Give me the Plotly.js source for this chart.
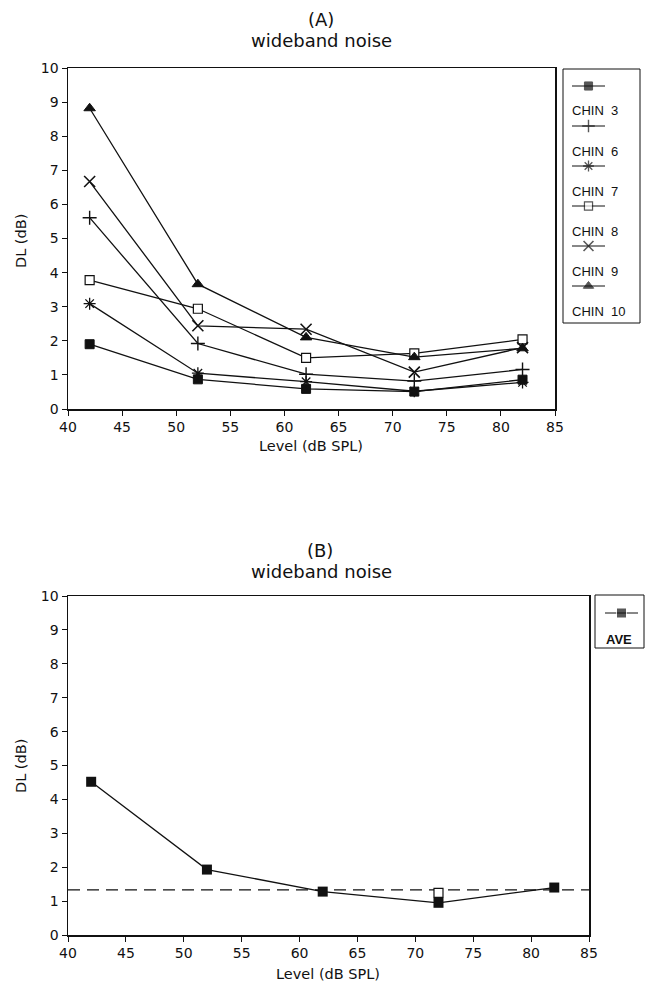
<!DOCTYPE html>
<html>
<head>
<meta charset="utf-8">
<script src="https://cdn.plot.ly/plotly-3.0.1.min.js"></script>
<style>html,body{margin:0;padding:0;background:#fff;}</style>
</head>
<body>
<div id="chart" style="width:651px;height:984px;"></div>
<script>
// ---------- data ----------
const levels = [42, 52, 62, 72, 82];
const chin3  = [1.90, 0.87, 0.59, 0.51, 0.86];
const chin6  = [5.61, 1.92, 1.02, 0.82, 1.16];
const chin7  = [3.09, 1.05, 0.80, 0.52, 0.78];
const chin8  = [3.78, 2.94, 1.50, 1.63, 2.04];
const chin9  = [6.67, 2.44, 2.34, 1.08, 1.80];
const chin10 = [8.82, 3.66, 2.10, 1.52, 1.78];
const seriesNames = ["CHIN  3", "CHIN  6", "CHIN  7", "CHIN  8", "CHIN  9", "CHIN  10"];
const aveValues = [4.52, 1.93, 1.28, 0.95, 1.40];
const aveName = "AVE";
const extraLevel = [72];
const extraValue = [1.24];
const refLevels = [40, 85];
const refValue = [1.33, 1.33];
const xTicks = [40, 45, 50, 55, 60, 65, 70, 75, 80, 85];
const yTicks = [0, 1, 2, 3, 4, 5, 6, 7, 8, 9, 10];

// ---------- layout helpers ----------
const W = 651, H = 984;
const px = x => x / W;
const py = y => 1 - y / H;
const INK = "#111";
const tickFont = {family: "DejaVu Sans", size: 14, color: INK};
const titleFont = {family: "DejaVu Sans", size: 18, color: INK};
const axTitleFont = {family: "DejaVu Sans", size: 14.5, color: INK};
const legFont = {family: "Liberation Sans", size: 13, color: INK};

const styles = [
  {symbol: "square", size: 9, color: INK, line: {color: INK, width: 1}},
  {symbol: "cross-thin-open", size: 10, color: INK, line: {color: INK, width: 1.4}},
  {symbol: "asterisk-open", size: 10, color: INK, line: {color: INK, width: 1.3}},
  {symbol: "square", size: 9, color: "#fff", line: {color: INK, width: 1.2}},
  {symbol: "x-thin-open", size: 11, color: INK, line: {color: INK, width: 1.6}},
  {symbol: "triangle-up", size: 10, color: INK, line: {color: INK, width: 1}}
];
const chinData = [chin3, chin6, chin7, chin8, chin9, chin10];

const traces = [];
chinData.forEach((ys, i) => {
  traces.push({
    x: levels, y: ys, type: "scatter", mode: "lines+markers",
    name: seriesNames[i], xaxis: "x", yaxis: "y",
    line: {color: INK, width: 1.3}, marker: styles[i], showlegend: false
  });
});
traces.push({
  x: refLevels, y: refValue, type: "scatter", mode: "lines", xaxis: "x2", yaxis: "y2",
  line: {color: INK, width: 1.2, dash: "12px,7px"}, showlegend: false, hoverinfo: "skip"
});
traces.push({
  x: extraLevel, y: extraValue, type: "scatter", mode: "markers", xaxis: "x2", yaxis: "y2",
  marker: {symbol: "square", size: 9, color: "#fff", line: {color: INK, width: 1.2}}, showlegend: false
});
traces.push({
  x: levels, y: aveValues, type: "scatter", mode: "lines+markers", name: aveName,
  xaxis: "x2", yaxis: "y2", line: {color: INK, width: 1.3},
  marker: {symbol: "square", size: 10, color: INK}, showlegend: false
});

// ---------- custom legends (drawn on a pixel-space overlay axis) ----------
const shapes = [];
const annotations = [];
function legendSample(marker, yRow, x0, x1, scale) {
  const xm = (x0 + x1) / 2;
  traces.push({
    x: [x0, xm, x1], y: [yRow, yRow, yRow], type: "scatter", mode: "lines+markers",
    xaxis: "x3", yaxis: "y3", showlegend: false, hoverinfo: "skip",
    line: {color: INK, width: 1},
    marker: Object.assign({}, marker, {size: [0, marker.size * scale, 0]})
  });
}
// top legend box
shapes.push({type: "rect", xref: "paper", yref: "paper",
  x0: px(563), x1: px(640), y0: py(69), y1: py(323), line: {color: INK, width: 1}});
seriesNames.forEach((nm, i) => {
  const labelY = 111 + 40 * i;
  legendSample(styles[i], labelY - 25, 572, 605, 0.9);
  annotations.push({text: nm, xref: "paper", yref: "paper", x: px(570), y: py(labelY),
    xanchor: "left", yanchor: "middle", showarrow: false, font: legFont});
});
// bottom legend box
shapes.push({type: "rect", xref: "paper", yref: "paper",
  x0: px(595), x1: px(644), y0: py(595), y1: py(648), line: {color: INK, width: 1}});
legendSample({symbol: "square", size: 10, color: INK}, 613, 605, 638, 1);
annotations.push({text: aveName, xref: "paper", yref: "paper", x: px(604), y: py(639),
  xanchor: "left", yanchor: "middle", showarrow: false,
  font: {family: "Liberation Sans", size: 13, color: INK, weight: "bold"}});

// titles
function txt(t, x, y, font, angle) {
  annotations.push({text: t, xref: "paper", yref: "paper", x: px(x), y: py(y),
    xanchor: "center", yanchor: "middle", showarrow: false, font: font, textangle: angle || 0});
}
txt("(A)", 321, 20, titleFont);
txt("wideband noise", 321, 41, titleFont);
txt("(B)", 320, 550, titleFont);
txt("wideband noise", 321, 571, titleFont);
txt("Level (dB SPL)", 311, 446, axTitleFont);
txt("Level (dB SPL)", 328, 974, axTitleFont);
txt("DL (dB)", 21, 241, axTitleFont, -90);
txt("DL (dB)", 21, 766, axTitleFont, -90);

const xCommon = {range: [40, 85], tickvals: xTicks, ticktext: xTicks.map(String), ticks: "outside",
  ticklen: 5, tickwidth: 1, tickcolor: INK, showline: true, mirror: true, linecolor: INK,
  linewidth: 1.5, showgrid: false, zeroline: false, tickfont: tickFont, fixedrange: true};
const yCommon = {range: [0, 10], tickvals: yTicks, ticktext: yTicks.map(String), ticks: "outside",
  ticklen: 5, tickwidth: 1, tickcolor: INK, showline: true, mirror: true, linecolor: INK,
  linewidth: 1.5, showgrid: false, zeroline: false, tickfont: tickFont, fixedrange: true};

const layout = {
  width: W, height: H, margin: {l: 0, r: 0, t: 0, b: 0},
  paper_bgcolor: "#fff", plot_bgcolor: "rgba(0,0,0,0)", showlegend: false,
  xaxis: Object.assign({}, xCommon, {domain: [px(68), px(555)], anchor: "y"}),
  yaxis: Object.assign({}, yCommon, {domain: [py(409), py(68)], anchor: "x"}),
  xaxis2: Object.assign({}, xCommon, {domain: [px(68), px(589)], anchor: "y2"}),
  yaxis2: Object.assign({}, yCommon, {domain: [py(935), py(596)], anchor: "x2"}),
  xaxis3: {domain: [0, 1], range: [0, W], visible: false, fixedrange: true, anchor: "y3"},
  yaxis3: {domain: [0, 1], range: [H, 0], visible: false, fixedrange: true, anchor: "x3"},
  shapes: shapes, annotations: annotations
};

Plotly.newPlot("chart", traces, layout, {displayModeBar: false, staticPlot: true});
</script>
</body>
</html>
